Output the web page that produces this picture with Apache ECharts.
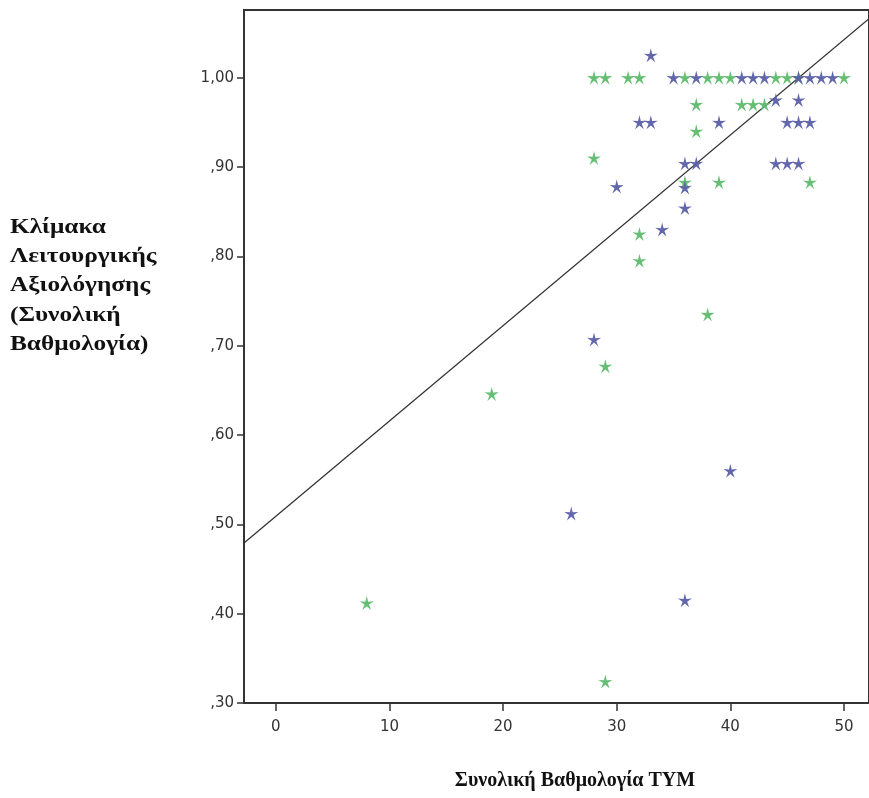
<!DOCTYPE html>
<html>
<head>
<meta charset="utf-8">
<script src="https://cdn.jsdelivr.net/npm/echarts@6/dist/echarts.min.js"></script>
<style>
  html, body { margin: 0; padding: 0; background: #fff; }
  #chart { width: 869px; height: 798px; }
</style>
</head>
<body>
<div id="chart"></div>
<script>
// points: [ΤΥΜ score, functional scale]
const greenPoints = [
  [28, 1.00], [29, 1.00], [31, 1.00], [32, 1.00], [36, 1.00], [38, 1.00],
  [39, 1.00], [40, 1.00], [44, 1.00], [45, 1.00], [46, 1.00], [50, 1.00],
  [37, 0.97], [41, 0.97], [42, 0.97], [43, 0.97],
  [37, 0.94],
  [28, 0.91],
  [36, 0.883], [39, 0.883], [47, 0.883],
  [32, 0.825], [32, 0.795], [38, 0.735], [29, 0.677], [19, 0.646],
  [8, 0.412], [29, 0.324]
];
const bluePoints = [
  [33, 1.025],
  [35, 1.00], [37, 1.00], [41, 1.00], [42, 1.00], [43, 1.00], [46, 1.00],
  [47, 1.00], [48, 1.00], [49, 1.00],
  [44, 0.975], [46, 0.975],
  [32, 0.95], [33, 0.95], [39, 0.95], [45, 0.95], [46, 0.95], [47, 0.95],
  [36, 0.904], [37, 0.904], [44, 0.904], [45, 0.904], [46, 0.904],
  [30, 0.878], [36, 0.877], [36, 0.854], [34, 0.83], [28, 0.707],
  [26, 0.512], [40, 0.56], [36, 0.415]
];
// fit line, two points read where it meets the plot edges
const fitX = [-2.8, 52.2];
const fitY = [0.479, 1.066];

const xTicks = [0, 10, 20, 30, 40, 50];
const yTicks = [0.3, 0.4, 0.5, 0.6, 0.7, 0.8, 0.9, 1.0];
const yTitleLines = ['Κλίμακα', 'Λειτουργικής', 'Αξιολόγησης', '(Συνολική', 'Βαθμολογία)'];
const xTitle = 'Συνολική Βαθμολογία ΤΥΜ';

// thin five point star like the spss marker
function starPath() {
  const R = 10, r = 3.2;
  let d = '';
  for (let i = 0; i < 10; i++) {
    const rad = i % 2 === 0 ? R : r;
    const a = -Math.PI / 2 + i * Math.PI / 5;
    const x = (10 + rad * Math.cos(a)).toFixed(2);
    const y = (10 + rad * Math.sin(a)).toFixed(2);
    d += (i === 0 ? 'M' : 'L') + x + ',' + y;
  }
  return 'path://' + d + 'Z';
}
const star = starPath();

const chart = echarts.init(document.getElementById('chart'));

const tickText = {
  color: '#333',
  fontFamily: '"DejaVu Sans", sans-serif',
  fontSize: 15,
};
const titleFont = 'bold 22px "Liberation Serif", "DejaVu Serif", serif';

chart.setOption({
  animation: false,
  backgroundColor: '#fff',
  grid: {
    left: 244,
    top: 10,
    right: -3,
    bottom: 95,
    show: true,
    borderColor: '#333',
    borderWidth: 2,
  },
  xAxis: {
    type: 'value',
    min: -2.8,
    max: 52.2,
    splitLine: { show: false },
    axisLine: { show: true, onZero: false, lineStyle: { color: '#333', width: 2 } },
    axisTick: { show: true, customValues: xTicks, length: 8, lineStyle: { color: '#333', width: 1.5 } },
    axisLabel: Object.assign({ customValues: xTicks, margin: 17 }, tickText),
  },
  yAxis: {
    type: 'value',
    min: 0.3,
    max: 1.0757,
    splitLine: { show: false },
    axisLine: { show: true, onZero: false, lineStyle: { color: '#333', width: 2 } },
    axisTick: { show: true, customValues: yTicks, length: 7, lineStyle: { color: '#333', width: 1.5 } },
    axisLabel: Object.assign({
      customValues: yTicks,
      margin: 10,
      formatter: v => v.toFixed(2).replace('.', ',').replace(/^0/, ''),
    }, tickText),
  },
  graphic: yTitleLines.map((t, i) => ({
    type: 'text',
    x: 10,
    y: 227 + i * 29.3,
    scaleX: 1.15,
    style: {
      text: t,
      font: titleFont,
      fill: '#111',
      textAlign: 'left',
      textVerticalAlign: 'middle',
    },
  })).concat([{
    type: 'text',
    x: 575,
    y: 781,
    style: {
      text: xTitle,
      font: 'bold 20px "Liberation Serif", "DejaVu Serif", serif',
      fill: '#111',
      textAlign: 'center',
      textVerticalAlign: 'middle',
    },
  }]),
  series: [
    {
      type: 'line',
      data: fitX.map((x, i) => [x, fitY[i]]),
      showSymbol: false,
      lineStyle: { color: '#333', width: 1.3 },
      silent: true,
      z: 1,
    },
    {
      type: 'scatter',
      data: greenPoints,
      symbol: star,
      symbolSize: 14,
      itemStyle: { color: '#5dbb6c', opacity: 0.95 },
      z: 2,
    },
    {
      type: 'scatter',
      data: bluePoints,
      symbol: star,
      symbolSize: 14,
      itemStyle: { color: '#5a5fa6', opacity: 0.95 },
      z: 3,
    },
  ],
});
</script>
</body>
</html>
